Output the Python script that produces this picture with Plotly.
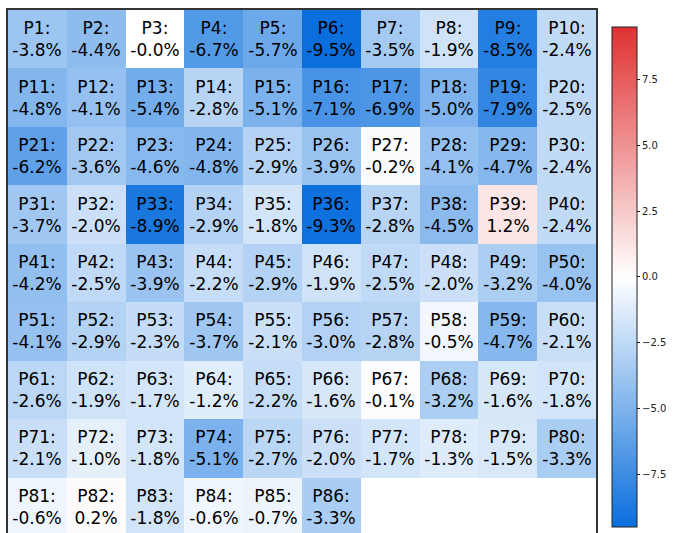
import plotly.graph_objects as go

labels = [f"P{i}" for i in range(1, 87)]
values = [
    -3.8, -4.4, -0.0, -6.7, -5.7, -9.5, -3.5, -1.9, -8.5, -2.4,
    -4.8, -4.1, -5.4, -2.8, -5.1, -7.1, -6.9, -5.0, -7.9, -2.5,
    -6.2, -3.6, -4.6, -4.8, -2.9, -3.9, -0.2, -4.1, -4.7, -2.4,
    -3.7, -2.0, -8.9, -2.9, -1.8, -9.3, -2.8, -4.5, 1.2, -2.4,
    -4.2, -2.5, -3.9, -2.2, -2.9, -1.9, -2.5, -2.0, -3.2, -4.0,
    -4.1, -2.9, -2.3, -3.7, -2.1, -3.0, -2.8, -0.5, -4.7, -2.1,
    -2.6, -1.9, -1.7, -1.2, -2.2, -1.6, -0.1, -3.2, -1.6, -1.8,
    -2.1, -1.0, -1.8, -5.1, -2.7, -2.0, -1.7, -1.3, -1.5, -3.3,
    -0.6, 0.2, -1.8, -0.6, -0.7, -3.3,
]
n_cols = 10
n_rows = 9
colorbar_ticks = [-7.5, -5.0, -2.5, 0.0, 2.5, 5.0, 7.5]

z = [[None] * n_cols for _ in range(n_rows)]
txt = [[""] * n_cols for _ in range(n_rows)]
for i, (lab, v) in enumerate(zip(labels, values)):
    r, c = divmod(i, n_cols)
    z[r][c] = v
    txt[r][c] = f"{lab}:<br>{v:.1f}%"

fig = go.Figure(go.Heatmap(
    z=z, text=txt, texttemplate="%{text}",
    textfont=dict(family="DejaVu Sans", size=17, color="black"),
    x=list(range(n_cols)), y=list(range(n_rows)),
    zmin=-9.5, zmax=9.5,
    colorscale=[[0, "#0a6edc"], [0.5, "#ffffff"], [1, "#e03131"]],
    hoverongaps=False,
    colorbar=dict(
        x=1.0272, xanchor="left", xpad=0, ypad=0, thickness=25,
        lenmode="pixels", len=500, y=0.4895, yanchor="middle",
        outlinewidth=1, outlinecolor="#222",
        tickvals=colorbar_ticks, tickformat=".1f",
        ticks="outside", ticklen=3, tickcolor="#222",
        tickfont=dict(family="DejaVu Sans", size=10, color="#222"),
    ),
))
fig.update_xaxes(range=[-0.5, n_cols - 0.5], showticklabels=False, showgrid=False,
                 zeroline=False, showline=True, mirror=True, linecolor="#333", linewidth=1.5, ticks="")
fig.update_yaxes(range=[n_rows - 0.55, -0.5], showticklabels=False, showgrid=False,
                 zeroline=False, showline=True, mirror=True, linecolor="#333", linewidth=1.5, ticks="")
fig.update_layout(width=673, height=533,
                  margin=dict(l=8, r=77, t=10, b=0, autoexpand=False),
                  paper_bgcolor="white", plot_bgcolor="white")
fig.write_html("out.html",
               config={"displayModeBar": False},
               post_script="document.body.style.margin='0';document.body.style.overflow='hidden';")
